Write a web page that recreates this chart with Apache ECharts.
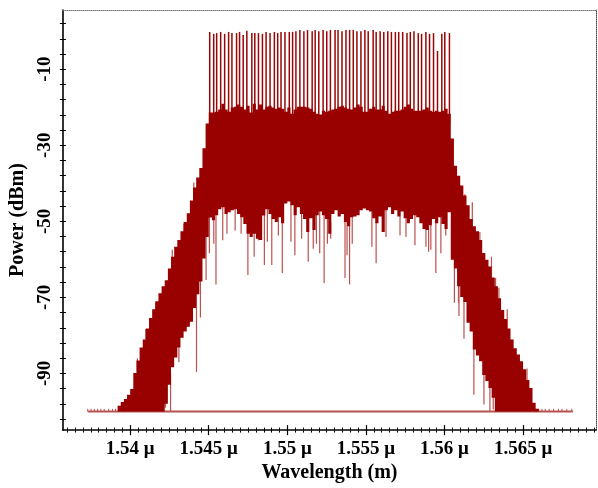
<!DOCTYPE html>
<html><head><meta charset="utf-8">
<script src="https://cdn.jsdelivr.net/npm/echarts@6/dist/echarts.min.js"></script>
<style>html,body{margin:0;padding:0;background:#fff}#c{width:598px;height:488px}</style>
</head><body><div id="c"></div>
<script>
// ---- data (wavelength in µm, power in dBm) ----
const bandWl = [
1.5393,1.5395,1.5397,1.5399,1.5401,1.5403,1.5405,1.5407,1.5409,1.5411,
1.5413,1.5415,1.5417,1.5419,1.5421,1.5423,1.5425,1.5427,1.5429,1.5431,
1.5433,1.5435,1.5437,1.5439,1.5441,1.5443,1.5445,1.5447,1.5449,1.5451,
1.5453,1.5455,1.5457,1.5459,1.5461,1.5463,1.5465,1.5467,1.5469,1.5471,
1.5473,1.5475,1.5477,1.5479,1.5481,1.5483,1.5485,1.5487,1.5489,1.5491,
1.5493,1.5495,1.5497,1.5499,1.5501,1.5503,1.5505,1.5507,1.5509,1.5511,
1.5513,1.5515,1.5517,1.5519,1.5521,1.5523,1.5525,1.5527,1.5529,1.5531,
1.5533,1.5535,1.5537,1.5539,1.5541,1.5543,1.5545,1.5547,1.5549,1.5551,
1.5553,1.5555,1.5557,1.5559,1.5561,1.5563,1.5565,1.5567,1.5569,1.5571,
1.5573,1.5575,1.5577,1.5579,1.5581,1.5583,1.5585,1.5587,1.5589,1.5591,
1.5593,1.5595,1.5597,1.5599,1.5601,1.5603,1.5605,1.5607,1.5609,1.5611,
1.5613,1.5615,1.5617,1.5619,1.5621,1.5623,1.5625,1.5627,1.5629,1.5631,
1.5633,1.5635,1.5637,1.5639,1.5641,1.5643,1.5645,1.5647,1.5649,1.5651,
1.5653,1.5655,1.5657,1.5659];
const bandLow = [
-100,-100,-100,-100,-100,-100,-100,-100,-100,-100,
-100,-100,-100,-100,-100,-98,-93,-88.4,-85.8,-83.2,
-80.6,-79.0,-77.7,-76.4,-72.8,-69.2,-65.8,-59.8,-54.1,-49.0,
-49.7,-48.4,-46.8,-46.3,-48.1,-47.6,-47.1,-46.8,-48.1,-48.9,
-50.7,-53.3,-54.1,-53.3,-54.6,-54.9,-48.5,-46.8,-48.1,-49.4,
-50.2,-48.9,-50.5,-45.3,-44.8,-45.8,-48.4,-46.3,-48.1,-49.4,
-52.8,-49.2,-52.3,-48.4,-47.4,-48.4,-49.4,-53.3,-48.1,-47.1,
-48.7,-48.1,-50.2,-51.3,-48.9,-48.7,-48.4,-47.1,-46.6,-47.1,
-47.4,-49.2,-50.5,-48.7,-52.8,-47.1,-46.3,-48.1,-47.1,-48.7,
-47.4,-49.2,-50.5,-49.4,-48.4,-48.9,-50.5,-52.0,-52.3,-51.0,
-49.4,-50.5,-48.9,-50.7,-52.0,-47.6,-60.1,-62.4,-67.1,-69.9,
-71.2,-76.7,-79.0,-83.7,-85.3,-86.8,-90.4,-92.0,-93.8,-96.4,
-100,-100,-100,-100,-100,-100,-100,-100,-100,-100,
-100,-100,-100,-100];
const bandHigh = [
-98.5,-97.5,-96.7,-95.6,-94.1,-89.9,-86.6,-83.2,-81.1,-78.2,
-75.4,-73.1,-71.0,-68.9,-67.1,-65.5,-62.4,-59.3,-56.7,-54.9,
-52.6,-50.2,-47.9,-44.5,-41.1,-38.5,-36.0,-30.8,-24.3,-21.4,
-21.4,-21.2,-20.6,-19.1,-20.6,-21.2,-20.1,-19.9,-19.3,-19.9,
-20.6,-19.6,-21.4,-19.1,-20.6,-19.3,-20.6,-19.9,-19.6,-20.1,
-20.4,-20.1,-20.4,-21.2,-20.1,-21.7,-20.6,-19.9,-19.9,-19.9,
-20.1,-20.4,-21.2,-21.7,-21.9,-20.9,-21.2,-20.9,-20.6,-20.4,
-19.9,-19.6,-20.1,-20.4,-20.6,-20.1,-19.3,-19.9,-21.2,-21.2,
-20.4,-19.9,-20.6,-20.6,-19.6,-20.9,-21.7,-21.2,-20.9,-20.9,
-20.6,-19.9,-19.3,-20.4,-20.9,-20.9,-20.9,-20.6,-20.1,-20.9,
-21.2,-20.9,-21.2,-20.9,-20.4,-21.7,-28.2,-35.4,-38.0,-40.6,
-43.2,-45.8,-49.4,-51.3,-52.6,-54.9,-58.3,-60.1,-61.9,-64.8,
-67.1,-70.2,-73.3,-75.7,-78.2,-81.1,-83.4,-85.0,-86.8,-88.9,
-91.7,-93.8,-97.7,-99.3];

const combWl = [
1.545061,1.545315,1.545504,1.545758,1.546011,1.546264,1.546475,1.546770,1.546960,1.547192,
1.547424,1.547741,1.547930,1.548163,1.548416,1.548648,1.548901,1.549175,1.549386,1.549597,
1.549850,1.550125,1.550335,1.550546,1.550799,1.551053,1.551285,1.551580,1.551770,1.552002,
1.552277,1.552508,1.552741,1.553036,1.553226,1.553479,1.553732,1.553964,1.554196,1.554428,
1.554682,1.554935,1.555146,1.555462,1.555652,1.555905,1.556137,1.556391,1.556622,1.556875,
1.557087,1.557340,1.557614,1.557825,1.558057,1.558331,1.558542,1.558816,1.559049,1.559302,
1.559555,1.559829,1.560019,1.560315];
const combTop = [
-0.2,-0.7,-0.5,-0.2,-0.7,-0.2,-0.5,-0.5,-0.2,-1.0,
0.1,-0.5,-0.5,-0.5,-0.7,-0.2,-0.5,-0.2,-0.5,-0.2,
-0.2,-0.2,-0.2,0.0,0.3,0.0,0.3,0.0,0.3,0.0,
0.3,0.0,0.3,0.3,0.3,0.0,0.3,0.3,0.3,0.0,
0.0,0.3,0.0,0.3,-0.2,0.0,-0.2,0.0,-0.2,-0.2,
-0.2,-0.2,-0.5,-0.2,0.0,-0.5,-0.7,-0.2,-0.7,-0.5,
-5.2,-0.7,-0.2,-0.5];

const dipWl = [
1.54225,1.54257,1.54310,1.54422,1.54447,1.54483,1.54504,1.54532,1.54546,1.54589,
1.54616,1.54668,1.54706,1.54749,1.54789,1.54816,1.54854,1.54873,1.54901,1.54943,
1.54968,1.55023,1.55048,1.55091,1.55133,1.55165,1.55185,1.55206,1.55234,1.55255,
1.55276,1.55367,1.55380,1.55396,1.55413,1.55538,1.55565,1.55628,1.55717,1.55755,
1.55812,1.55882,1.55899,1.55913,1.55945,1.55977,1.56008,1.56063,1.56089,1.56092,
1.56124,1.56187,1.56251,1.56289,1.56310];
const dipLow = [
-99.0,-100,-87.0,-89.6,-75.3,-65.4,-58.4,-55.9,-66.6,-55.0,
-53.3,-52.4,-53.3,-64.1,-59.3,-55.0,-61.5,-55.4,-61.5,-53.7,
-63.6,-55.4,-58.9,-54.6,-60.6,-57.2,-55.9,-58.4,-66.2,-55.9,
-54.6,-64.9,-58.9,-66.6,-55.9,-56.7,-61.0,-54.1,-53.7,-54.1,
-56.3,-56.7,-58.0,-57.5,-63.6,-58.4,-53.7,-71.4,-71.4,-74.9,
-80.9,-95.6,-98.2,-100,-99.5];

const spurWl = [1.54046,1.54099,1.54162,1.54268,1.54342,1.54405,1.54447,
                1.56129,1.56177,1.56225,1.56299,1.56325,1.56346,1.56399,1.56525];
const spurTop = [-86.1,-78.3,-71.4,-57.5,-50.7,-39.8,-36.0,
                 -42.9,-45.0,-52.8,-59.3,-64.9,-67.5,-73.1,-88.7];

const floorWl = [1.5373, 1.56817];
const floorLevel = [-100, -100];
const floorTickWl = [1.53730,1.53751,1.53772,1.53793,1.53814,1.53835,1.53863,1.53888,1.53907,
                     1.56599,1.56620,1.56641,1.56666,1.56694,1.56725,1.56747,1.56778,1.56810];
const floorTickTop = -99.3;

const xTickLabels = [1.54, 1.545, 1.55, 1.555, 1.56, 1.565];
const yTickLabels = [-90, -70, -50, -30, -10];
const xRange = [1.53572, 1.56964];
const yRange = [-104.9, 5.57];

// ---- axis minor tick positions ----
const xMinor = []; for (let i = 0; i <= 67; i++) xMinor.push(+(1.536 + i * 0.0005).toFixed(4));
const yMinor = []; for (let v = -102; v <= 2; v += 4) yMinor.push(v);

function nearestBin(w) {
  let b = 0;
  for (let i = 1; i < bandWl.length; i++) if (Math.abs(bandWl[i] - w) < Math.abs(bandWl[b] - w)) b = i;
  return b;
}

const FONT = 'Liberation Serif';
const labelStyle = {fontFamily: FONT, fontWeight: 'bold', fontSize: 19, color: '#000'};
const RED = '#990000';

function vline(api, w, a, b, color, width) {
  const p0 = api.coord([w, a]), p1 = api.coord([w, b]);
  return {type: 'line', shape: {x1: p0[0], y1: p0[1], x2: p1[0], y2: p1[1]},
          style: {stroke: color, lineWidth: width}};
}

const baseX = {type: 'value', min: xRange[0], max: xRange[1], splitLine: {show: false}, gridIndex: 0};
const baseY = {type: 'value', min: yRange[0], max: yRange[1], splitLine: {show: false}, gridIndex: 0};
const noLabel = {show: false};

const option = {
  animation: false,
  backgroundColor: '#fff',
  grid: {left: 60, right: 2, top: 10, bottom: 52, containLabel: false},
  xAxis: [
    Object.assign({}, baseX, {position: 'bottom',
      axisLine: {show: true, onZero: false, lineStyle: {color: '#000', width: 1.6}},
      axisTick: {show: true, customValues: xMinor, length: 2.5, inside: false, lineStyle: {color: '#000', width: 1}},
      axisLabel: Object.assign({customValues: xTickLabels, margin: 9,
        formatter: v => (+(+v).toFixed(4)) + ' μ'}, labelStyle),
      name: 'Wavelength (m)', nameLocation: 'middle', nameGap: 24,
      nameTextStyle: {fontFamily: FONT, fontWeight: 'bold', fontSize: 20, color: '#000'}}),
    Object.assign({}, baseX, {position: 'bottom', axisLine: {show: false, onZero: false},
      axisTick: {show: true, customValues: xMinor, length: 2.5, inside: true, lineStyle: {color: '#000', width: 1}},
      axisLabel: noLabel}),
    Object.assign({}, baseX, {position: 'bottom', axisLine: {show: false, onZero: false},
      axisTick: {show: true, customValues: xTickLabels, length: 5, inside: true, lineStyle: {color: '#000', width: 1.2}},
      axisLabel: noLabel}),
    Object.assign({}, baseX, {position: 'bottom', axisLine: {show: false, onZero: false},
      axisTick: {show: true, customValues: xTickLabels, length: 5, inside: false, lineStyle: {color: '#000', width: 1.2}},
      axisLabel: noLabel}),
    Object.assign({}, baseX, {position: 'top',
      axisLine: {show: true, onZero: false, lineStyle: {color: '#777', width: 1, type: 'dotted'}},
      axisTick: {show: false}, axisLabel: noLabel})
  ],
  yAxis: [
    Object.assign({}, baseY, {position: 'left',
      axisLine: {show: true, onZero: false, lineStyle: {color: '#000', width: 1.6}},
      axisTick: {show: true, customValues: yMinor, length: 3, inside: false, lineStyle: {color: '#000', width: 1}},
      axisLabel: Object.assign({customValues: yTickLabels, rotate: 90, margin: 8}, labelStyle),
      name: 'Power (dBm)', nameLocation: 'middle', nameRotate: 90, nameGap: 34,
      nameTextStyle: {fontFamily: FONT, fontWeight: 'bold', fontSize: 20, color: '#000'}}),
    Object.assign({}, baseY, {position: 'left', axisLine: {show: false, onZero: false},
      axisTick: {show: true, customValues: yMinor, length: 3, inside: true, lineStyle: {color: '#000', width: 1}},
      axisLabel: noLabel}),
    Object.assign({}, baseY, {position: 'right',
      axisLine: {show: true, onZero: false, lineStyle: {color: '#444', width: 1, type: 'dotted'}},
      axisTick: {show: false}, axisLabel: noLabel})
  ],
  series: [
    { // noise floor
      type: 'line', xAxisIndex: 0, yAxisIndex: 0, z: 1, symbol: 'none', silent: true,
      data: floorWl.map((w, i) => [w, floorLevel[i]]),
      lineStyle: {color: '#b75252', width: 2}
    },
    { // floor ticks
      type: 'custom', xAxisIndex: 0, yAxisIndex: 0, z: 1, silent: true,
      data: floorTickWl.map(w => [w, floorTickTop]),
      renderItem: (p, api) => vline(api, api.value(0), floorLevel[0], api.value(1), '#b75252', 1)
    },
    { // downward dips (light lines hanging below the band)
      type: 'custom', xAxisIndex: 0, yAxisIndex: 0, z: 2, silent: true,
      data: dipWl.map((w, i) => [w, dipLow[i]]),
      renderItem: (p, api) => {
        const w = api.value(0);
        return vline(api, w, api.value(1), bandLow[nearestBin(w)] + 3, '#bb5050', 1.2);
      }
    },
    { // upward spurs on slopes
      type: 'custom', xAxisIndex: 0, yAxisIndex: 0, z: 2, silent: true,
      data: spurWl.map((w, i) => [w, spurTop[i]]),
      renderItem: (p, api) => {
        const w = api.value(0);
        return vline(api, w, api.value(1), bandHigh[nearestBin(w)] - 3, '#bb5050', 1.2);
      }
    },
    { // comb lines
      type: 'custom', xAxisIndex: 0, yAxisIndex: 0, z: 2, silent: true,
      data: combWl.map((w, i) => [w, combTop[i]]),
      renderItem: (p, api) => {
        const w = api.value(0);
        return vline(api, w, api.value(1), bandHigh[nearestBin(w)] - 3, '#9a0606', 1.5);
      }
    },
    { // dense spectrum band (min..max per bin) drawn as one staircase polygon, on top
      type: 'custom', xAxisIndex: 0, yAxisIndex: 0, z: 10, silent: true,
      data: bandWl.map((w, i) => [w, bandLow[i], bandHigh[i]]),
      renderItem: (p, api) => {
        if (p.dataIndex !== 0) return null;
        const n = bandWl.length;
        const half = i => (i < n - 1 ? bandWl[i + 1] - bandWl[i] : bandWl[i] - bandWl[i - 1]) / 2;
        const topPts = [], botPts = [];
        for (let i = 0; i < n; i++) {
          const h = half(i);
          topPts.push(api.coord([bandWl[i] - h, bandHigh[i]]), api.coord([bandWl[i] + h, bandHigh[i]]));
          botPts.push(api.coord([bandWl[i] - h, bandLow[i]]), api.coord([bandWl[i] + h, bandLow[i]]));
        }
        const pts = topPts.concat(botPts.reverse());
        return {type: 'polygon', shape: {points: pts}, style: {fill: RED}};
      }
    }
  ]
};

const chart = echarts.init(document.getElementById('c'), null, {renderer: 'canvas'});
chart.setOption(option);
</script>
</body></html>
